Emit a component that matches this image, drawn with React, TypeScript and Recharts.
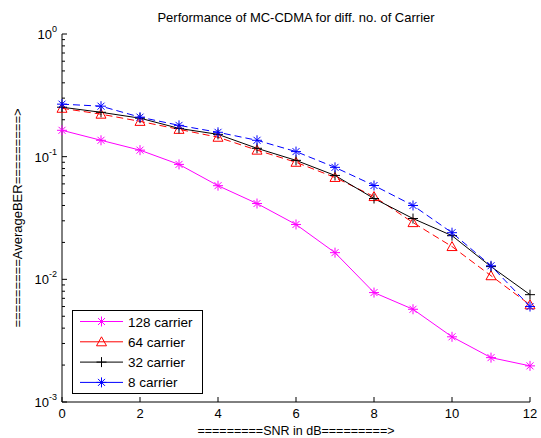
import type { JSX } from "react"
import { CartesianGrid, Legend, Line, LineChart, XAxis, YAxis } from "recharts"

// SNR in dB
const snr = [0, 1, 2, 3, 4, 5, 6, 7, 8, 9, 10, 11, 12]

// average BER, one array per carrier count
const ber128 = [0.164, 0.136, 0.113, 0.0865, 0.058, 0.0415, 0.028, 0.0165, 0.0078, 0.0057, 0.0034, 0.0023, 0.00197]
const ber64 = [0.248, 0.222, 0.194, 0.167, 0.144, 0.113, 0.09, 0.0677, 0.0473, 0.029, 0.0185, 0.0107, 0.0062]
const ber32 = [0.253, 0.23, 0.206, 0.17, 0.152, 0.117, 0.0933, 0.0703, 0.0456, 0.0313, 0.0227, 0.0127, 0.0075]
const ber8 = [0.268, 0.258, 0.21, 0.18, 0.158, 0.136, 0.11, 0.0818, 0.0582, 0.04, 0.024, 0.0129, 0.006]

const xTicks = [0, 2, 4, 6, 8, 10, 12]
const yMajorTicks = [0.001, 0.01, 0.1, 1]
const yTicks = [
  0.001, 0.002, 0.003, 0.004, 0.005, 0.006, 0.007, 0.008, 0.009,
  0.01, 0.02, 0.03, 0.04, 0.05, 0.06, 0.07, 0.08, 0.09,
  0.1, 0.2, 0.3, 0.4, 0.5, 0.6, 0.7, 0.8, 0.9, 1,
]

const data = snr.map((s, i) => ({
  snr: s,
  c128: ber128[i],
  c64: ber64[i],
  c32: ber32[i],
  c8: ber8[i],
}))

type Marker = "star" | "triangle" | "plus"

const SERIES: Array<{ key: string; name: string; color: string; dash?: string; marker: Marker }> = [
  { key: "c128", name: "128 carrier", color: "#ff00ff", marker: "star" },
  { key: "c64", name: "64 carrier", color: "#ff0000", dash: "7 4", marker: "triangle" },
  { key: "c32", name: "32 carrier", color: "#000000", marker: "plus" },
  { key: "c8", name: "8 carrier", color: "#0000ff", dash: "7 4", marker: "star" },
]

const FONT = "'Liberation Sans', Arial, sans-serif"

function MarkerShape(props: { cx?: number; cy?: number; color: string; type: Marker }): JSX.Element | null {
  const { cx, cy, color, type } = props
  if (cx == null || cy == null || Number.isNaN(cx) || Number.isNaN(cy)) return null
  if (type === "triangle") {
    return (
      <polygon
        points={`${cx},${cy - 5} ${cx - 5},${cy + 4} ${cx + 5},${cy + 4}`}
        fill="none"
        stroke={color}
        strokeWidth={1}
      />
    )
  }
  if (type === "plus") {
    return (
      <g stroke={color} strokeWidth={1}>
        <line x1={cx - 5} x2={cx + 5} y1={cy} y2={cy} />
        <line x1={cx} x2={cx} y1={cy - 5} y2={cy + 5} />
      </g>
    )
  }
  return (
    <g stroke={color} strokeWidth={1}>
      <line x1={cx - 5} x2={cx + 5} y1={cy} y2={cy} />
      <line x1={cx} x2={cx} y1={cy - 5} y2={cy + 5} />
      <line x1={cx - 3.5} x2={cx + 3.5} y1={cy - 3.5} y2={cy + 3.5} />
      <line x1={cx - 3.5} x2={cx + 3.5} y1={cy + 3.5} y2={cy - 3.5} />
    </g>
  )
}

const isMajor = (v: number) => yMajorTicks.some((m) => Math.abs(m - v) < m * 1e-6)

function LeftTick(props: any): JSX.Element {
  const { x, y, payload } = props
  const v = payload.value as number
  const major = isMajor(v)
  const exp = Math.round(Math.log10(v))
  return (
    <g>
      <line x1={x} x2={x + (major ? 5 : 3)} y1={y} y2={y} stroke="#000" />
      {major && (
        <text x={x - 5} y={y + 5} textAnchor="end" fontSize={13} fontFamily={FONT} fill="#000">
          10
          <tspan dy={-7} fontSize={9}>
            {exp}
          </tspan>
        </text>
      )}
    </g>
  )
}

function RightTick(props: any): JSX.Element {
  const { x, y, payload } = props
  const major = isMajor(payload.value as number)
  return <line x1={x} x2={x - (major ? 5 : 3)} y1={y} y2={y} stroke="#000" />
}

function BottomTick(props: any): JSX.Element {
  const { x, y, payload } = props
  return (
    <g>
      <line x1={x} x2={x} y1={y} y2={y - 5} stroke="#000" />
      <text x={x} y={y + 16} textAnchor="middle" fontSize={13} fontFamily={FONT} fill="#000">
        {payload.value}
      </text>
    </g>
  )
}

function TopTick(props: any): JSX.Element {
  const { x, y } = props
  return <line x1={x} x2={x} y1={y} y2={y + 5} stroke="#000" />
}

function LegendBox(): JSX.Element {
  return (
    <svg width={131} height={84} style={{ display: "block" }}>
      <rect x={0.5} y={0.5} width={130} height={83} fill="#fff" stroke="#000" />
      {SERIES.map((s, i) => {
        const cy = 11.5 + i * 20.3
        return (
          <g key={s.key}>
            <line x1={8} x2={51} y1={cy} y2={cy} stroke={s.color} />
            <MarkerShape cx={29.5} cy={cy} color={s.color} type={s.marker} />
            <text x={56} y={cy + 5} fontSize={13.5} fontFamily={FONT} fill="#000">
              {s.name}
            </text>
          </g>
        )
      })}
    </svg>
  )
}

export default function App(): JSX.Element {
  return (
    <div style={{ position: "absolute", left: 0, top: 0, width: 541, height: 438, background: "#fff" }}>
      <LineChart
        width={541}
        height={438}
        data={data}
        margin={{ top: 34, right: 11, bottom: 0, left: 0 }}
      >
        <CartesianGrid stroke="none" />
        <XAxis
          xAxisId="bottom"
          dataKey="snr"
          type="number"
          domain={[0, 12]}
          ticks={xTicks}
          interval={0}
          height={36}
          tickSize={0}
          tickMargin={0}
          tickLine={false}
          tick={<BottomTick />}
          axisLine={{ stroke: "#000" }}
        />
        <XAxis
          xAxisId="top"
          orientation="top"
          dataKey="snr"
          type="number"
          domain={[0, 12]}
          ticks={xTicks}
          interval={0}
          height={0}
          tickSize={0}
          tickMargin={0}
          tickLine={false}
          tick={<TopTick />}
          axisLine={{ stroke: "#000" }}
        />
        <YAxis
          yAxisId="left"
          type="number"
          scale="log"
          domain={[0.001, 1]}
          allowDataOverflow
          ticks={yTicks}
          interval={0}
          width={62}
          tickSize={0}
          tickMargin={0}
          tickLine={false}
          tick={<LeftTick />}
          axisLine={{ stroke: "#000" }}
        />
        <YAxis
          yAxisId="right"
          orientation="right"
          type="number"
          scale="log"
          domain={[0.001, 1]}
          allowDataOverflow
          ticks={yTicks}
          interval={0}
          width={0}
          tickSize={0}
          tickMargin={0}
          tickLine={false}
          tick={<RightTick />}
          axisLine={{ stroke: "#000" }}
        />
        <Legend
          layout="horizontal"
          verticalAlign="middle"
          align="center"
          wrapperStyle={{ left: 72, top: 310, width: 131, height: 84 }}
          content={() => <LegendBox />}
        />
        {SERIES.map((s) => (
          <Line
            key={s.key}
            xAxisId="bottom"
            yAxisId="left"
            dataKey={s.key}
            name={s.name}
            type="linear"
            stroke={s.color}
            strokeWidth={1}
            strokeDasharray={s.dash}
            dot={<MarkerShape color={s.color} type={s.marker} />}
            activeDot={false}
            isAnimationActive={false}
          />
        ))}
        <text x={296} y={22} textAnchor="middle" fontSize={13} fontFamily={FONT} fill="#000">
          Performance of MC-CDMA for diff. no. of Carrier
        </text>
        <text x={296} y={435} textAnchor="middle" fontSize={12.5} fontFamily={FONT} fill="#000">
          =========SNR in dB=========&gt;
        </text>
        <text
          x={22}
          y={218}
          textAnchor="middle"
          fontSize={13}
          fontFamily={FONT}
          fill="#000"
          transform="rotate(-90 22 218)"
        >
          =========AverageBER=========&gt;
        </text>
      </LineChart>
    </div>
  )
}
